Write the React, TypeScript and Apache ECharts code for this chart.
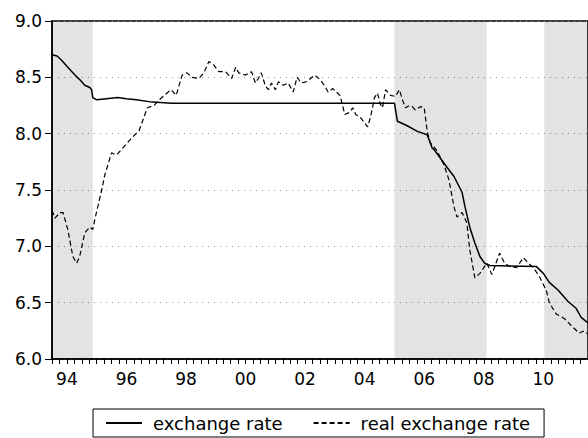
import React, { useEffect, useRef } from "react";
import * as echarts from "echarts";

// Years labelled on the x-axis (label shown at mid-year)
const labelYears = [1994, 1996, 1998, 2000, 2002, 2004, 2006, 2008, 2010];
// Quarter ticks on the x-axis
const quarterTicks: number[] = [];
for (let i = 0; i <= 72; i++) quarterTicks.push(1994 + i * 0.25);

// Shaded periods [start, end] in fractional years
const shadedPeriods: [number, number][] = [
  [1994.0, 1995.37],
  [2005.5, 2008.6],
  [2010.53, 2012.0],
];

// exchange rate (solid) [year, value]
const exchangeRate: [number, number][] = [
  [1994.0, 8.7], [1994.17, 8.69], [1994.33, 8.65], [1994.53, 8.59], [1994.77, 8.52],
  [1994.93, 8.48], [1995.1, 8.43], [1995.27, 8.41], [1995.33, 8.39], [1995.37, 8.32],
  [1995.5, 8.3], [1995.83, 8.31], [1996.2, 8.32], [1996.5, 8.31], [1996.83, 8.3],
  [1997.37, 8.28], [1998.03, 8.27], [2005.43, 8.27], [2005.5, 8.27], [2005.6, 8.11],
  [2005.93, 8.07], [2006.27, 8.02], [2006.6, 7.99], [2006.77, 7.87], [2006.83, 7.86],
  [2007.27, 7.7], [2007.5, 7.62], [2007.77, 7.48], [2007.87, 7.35], [2008.03, 7.17],
  [2008.2, 7.03], [2008.37, 6.91], [2008.53, 6.85], [2008.7, 6.83], [2010.27, 6.82],
  [2010.5, 6.76], [2010.7, 6.68], [2011.0, 6.61], [2011.33, 6.51], [2011.6, 6.45],
  [2011.77, 6.37], [2012.0, 6.32],
];

// real exchange rate (dashed) [year, value]
const realExchangeRate: [number, number][] = [
  [1994.0, 7.32], [1994.1, 7.25], [1994.27, 7.3], [1994.37, 7.3], [1994.53, 7.15],
  [1994.7, 6.91], [1994.83, 6.85], [1994.93, 6.91], [1995.1, 7.12], [1995.27, 7.17],
  [1995.37, 7.15], [1995.43, 7.23], [1995.67, 7.5], [1995.77, 7.63], [1996.0, 7.83],
  [1996.17, 7.81], [1996.37, 7.87], [1996.67, 7.96], [1996.93, 8.03], [1997.2, 8.23],
  [1997.43, 8.25], [1997.6, 8.3], [1997.77, 8.34], [1998.0, 8.39], [1998.17, 8.34],
  [1998.37, 8.52], [1998.53, 8.54], [1998.7, 8.5], [1998.93, 8.49], [1999.1, 8.54],
  [1999.27, 8.64], [1999.43, 8.61], [1999.6, 8.55], [1999.83, 8.55], [2000.03, 8.49],
  [2000.17, 8.59], [2000.27, 8.54], [2000.5, 8.52], [2000.7, 8.55], [2000.83, 8.45],
  [2000.93, 8.49], [2001.03, 8.54], [2001.17, 8.42], [2001.27, 8.39], [2001.37, 8.45],
  [2001.5, 8.39], [2001.6, 8.46], [2001.77, 8.43], [2001.93, 8.45], [2002.1, 8.37],
  [2002.23, 8.5], [2002.37, 8.45], [2002.53, 8.46], [2002.83, 8.52], [2003.0, 8.48],
  [2003.17, 8.42], [2003.27, 8.37], [2003.43, 8.4], [2003.67, 8.34], [2003.77, 8.24],
  [2003.83, 8.17], [2004.0, 8.19], [2004.1, 8.23], [2004.2, 8.17], [2004.37, 8.14],
  [2004.6, 8.06], [2004.7, 8.15], [2004.83, 8.32], [2004.93, 8.36], [2005.03, 8.26],
  [2005.1, 8.23], [2005.2, 8.39], [2005.37, 8.34], [2005.53, 8.33], [2005.67, 8.39],
  [2005.77, 8.3], [2005.87, 8.23], [2006.0, 8.25], [2006.1, 8.24], [2006.2, 8.21],
  [2006.37, 8.24], [2006.5, 8.23], [2006.6, 8.02], [2006.7, 7.92], [2006.93, 7.85],
  [2007.17, 7.72], [2007.33, 7.59], [2007.5, 7.35], [2007.6, 7.26], [2007.77, 7.3],
  [2007.93, 7.21], [2008.03, 6.97], [2008.2, 6.72], [2008.37, 6.76], [2008.6, 6.85],
  [2008.77, 6.75], [2008.87, 6.82], [2009.03, 6.94], [2009.2, 6.85], [2009.37, 6.82],
  [2009.6, 6.81], [2009.83, 6.9], [2010.0, 6.85], [2010.17, 6.81], [2010.37, 6.73],
  [2010.6, 6.61], [2010.7, 6.5], [2010.93, 6.4], [2011.2, 6.36], [2011.43, 6.3],
  [2011.7, 6.23], [2011.87, 6.25], [2012.0, 6.22],
];

const FONT = "DejaVu Sans";

export default function App() {
  const ref = useRef<HTMLDivElement>(null);
  useEffect(() => {
    if (!ref.current) return;
    const chart = echarts.init(ref.current, undefined, { renderer: "svg" });
    chart.setOption({
      animation: false,
      backgroundColor: "#fff",
      grid: {
        left: 52,
        right: -4,
        top: 21,
        bottom: 79,
        show: true,
        borderColor: "#000",
        borderWidth: 1.5,
        backgroundColor: "transparent",
      },
      legend: {
        data: ["exchange rate", "real exchange rate"],
        left: 93,
        top: 409,
        orient: "horizontal",
        borderColor: "#000",
        borderWidth: 1,
        borderRadius: 0,
        backgroundColor: "#fff",
        padding: [5, 14, 5, 12],
        itemGap: 30,
        itemWidth: 36,
        itemHeight: 14,
        itemStyle: { opacity: 0 },
        textStyle: { fontFamily: FONT, fontSize: 18, color: "#000", padding: [0, 0, 0, 6] },
      },
      xAxis: {
        type: "value",
        min: 1994,
        max: 2012,
        splitLine: { show: false },
        axisLine: { show: true, onZero: false, lineStyle: { color: "#000", width: 1.5 } },
        axisTick: {
          show: true,
          customValues: quarterTicks,
          length: 5,
          inside: false,
          lineStyle: { color: "#000", width: 1 },
        },
        axisLabel: {
          customValues: labelYears.map((y) => y + 0.5),
          formatter: (v: number) => String(Math.floor(v) % 100).padStart(2, "0"),
          fontFamily: FONT,
          fontSize: 17,
          color: "#000",
          margin: 11,
        },
      },
      yAxis: {
        type: "value",
        min: 6,
        max: 9,
        interval: 0.5,
        axisLine: { show: true, lineStyle: { color: "#000", width: 1.5 } },
        axisTick: { show: true, length: 7, inside: false, lineStyle: { color: "#000", width: 1 } },
        axisLabel: {
          formatter: (v: number) => v.toFixed(1),
          fontFamily: FONT,
          fontSize: 17,
          color: "#000",
          margin: 10,
        },
        splitLine: { show: true, lineStyle: { color: "#999", type: [1, 5], width: 1 } },
      },
      series: [
        {
          name: "exchange rate",
          type: "line",
          data: exchangeRate,
          symbol: "none",
          showSymbol: false,
          lineStyle: { color: "#000", width: 1.5 },
          itemStyle: { color: "#000" },
          z: 3,
          markArea: {
            silent: true,
            itemStyle: { color: "rgba(0,0,0,0.11)" },
            data: shadedPeriods.map(([a, b]) => [{ xAxis: a }, { xAxis: b }]),
          },
        },
        {
          name: "real exchange rate",
          type: "line",
          data: realExchangeRate,
          symbol: "none",
          showSymbol: false,
          lineStyle: { color: "#000", width: 1.2, type: [5, 3] },
          itemStyle: { color: "#000" },
          z: 3,
        },
      ],
    });
    return () => chart.dispose();
  }, []);
  return (
    <div
      ref={ref}
      style={{ position: "fixed", left: 0, top: 0, width: 588, height: 438, background: "#fff" }}
    />
  );
}
